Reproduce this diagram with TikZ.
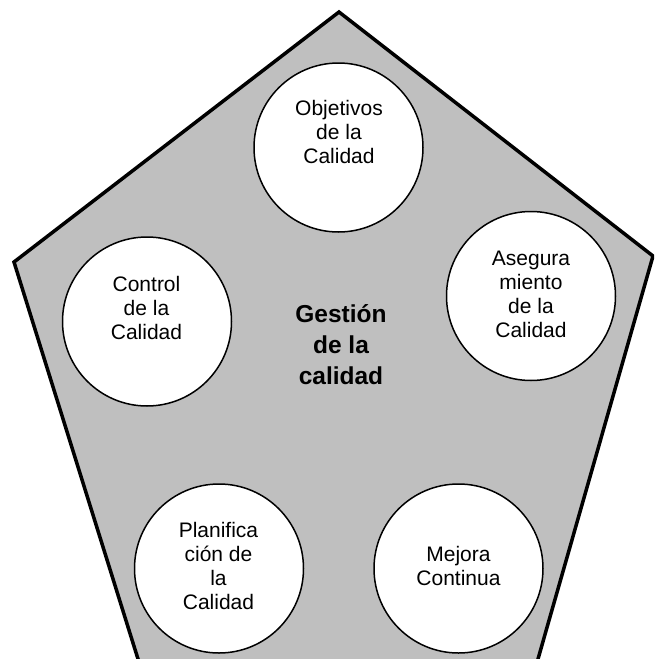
\documentclass[tikz,border=0pt]{standalone}
\usepackage{fontspec}
\setmainfont{Liberation Sans}
\usepackage{tikz}
\usetikzlibrary{positioning,calc}

\begin{document}
\begin{tikzpicture}[x=1pt,y=-1pt]
		\tikzset{
			qcircle/.style={draw=black,fill=white,line width=1.5pt,circle,minimum size=169pt,inner sep=0pt},
			qtext/.style={align=center,inner sep=0pt,font=\fontsize{21pt}{24pt}\selectfont},
			qtitle/.style={align=center,inner sep=0pt,font=\fontsize{24.5pt}{31pt}\selectfont\bfseries},
		}
		\useasboundingbox (0,0) rectangle (654,659);
		\clip (0,0) rectangle (654,659);
		% pentagon
		\coordinate (top) at (339,12);
		\coordinate (rgt) at (653,256);
		\coordinate (lft) at (14,262);
		\coordinate (brt) at ($(rgt)!1.1!(538,659)$);
		\coordinate (blt) at ($(lft)!1.1!(138,659)$);
		\draw[fill=black!25,line width=3.5pt,line join=miter] (top) -- (rgt) -- (brt) -- (blt) -- (lft) -- cycle;

		\node[qcircle] (obj) at (338.5,147.5) {};
		\node[qcircle] (ase) at (531,296) {};
		\node[qcircle] (ctl) at (147,321.5) {};
		\node[qcircle] (pla) at (219,568.5) {};
		\node[qcircle] (mej) at (458.5,568.5) {};

		\node[qtext] (tobj) at (339,132) {Objetivos\\de la\\Calidad};
		\node[qtext] (tase) at (531,294) {Asegura\\miento\\de la\\Calidad};
		\node[qtext] (tctl) at (146.5,307.5) {Control\\de la\\Calidad};
		\node[qtext] (tpla) at (218.5,566) {Planifica\\ción de\\la\\Calidad};
		\node[qtext] (tmej) at (458.5,566) {Mejora\\Continua};

		\node[qtitle] (gest) at (341,345) {Gestión\\de la\\calidad};
	\end{tikzpicture}
\end{document}
